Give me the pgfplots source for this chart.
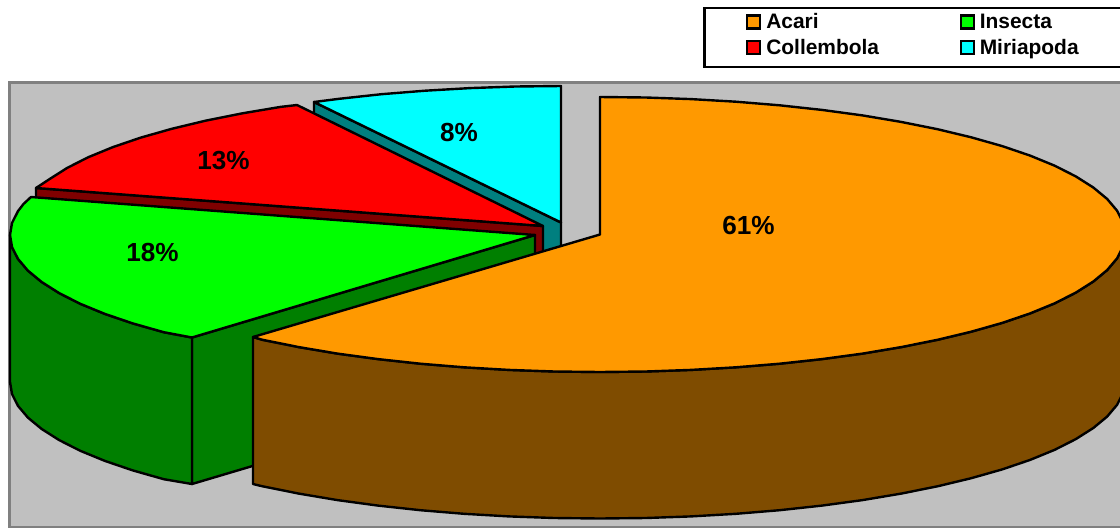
\documentclass[border=0pt]{standalone}
\usepackage{fontspec}
\setmainfont{Liberation Sans}
\usepackage{pgfplots}
\pgfplotsset{compat=1.18}
\definecolor{acari}{HTML}{FF9900}
\definecolor{acariside}{HTML}{7F4C00}
\definecolor{insecta}{HTML}{00FF00}
\definecolor{insectaside}{HTML}{007F00}
\definecolor{collembola}{HTML}{FF0000}
\definecolor{collembolaside}{HTML}{7F0000}
\definecolor{miriapoda}{HTML}{00FFFF}
\definecolor{miriapodaside}{HTML}{007F7F}
\definecolor{plotbg}{HTML}{C0C0C0}
\definecolor{plotframe}{HTML}{808080}
\pgfplotsset{
  face/.style={draw=black, line width=1.8pt, line join=round, mark=none, fill=#1},
  swatch/.style={only marks, mark=square*, mark size=4.875pt,
    mark options={draw=black, line width=1.8pt, fill=#1}},
}
\newcommand{\pct}[1]{\fontsize{19.6pt}{22pt}\selectfont\bfseries #1}
\newcommand{\lgd}[1]{\fontsize{15.7pt}{18pt}\selectfont\bfseries #1}
\begin{document}
\begin{tikzpicture}
\begin{axis}[
  hide axis, scale only axis, width=840pt, height=396.75pt,
  xmin=0, xmax=1120, ymin=0, ymax=529, y dir=reverse, clip=true,
]
% plot area
\addplot[draw=plotframe, fill=plotbg, line width=2pt, mark=none] coordinates {
  (9.5,82.5) (1130,82.5) (1130,527) (9.5,527) } --cycle;

% Miriapoda, 8%
\addplot[face=miriapodaside] coordinates {
  (314,102) (314,249) (561,369) (561,222.5) } --cycle;
\addplot[face=miriapoda] coordinates {
  (561,222.5) (561,86) (515.2,86.5) (469.9,88.1) (425.1,90.7) (381.4,94.2)
  (339.1,98.8) (314,102) } --cycle;

% Collembola, 13%
\addplot[face=collembolaside] coordinates {
  (36,188) (36,335) (543,373) (543,226) } --cycle;
\addplot[face=collembola] coordinates {
  (543,226) (297,105) (280.5,106.9) (241.9,113.4) (205.5,120.7) (171.8,128.8)
  (140.8,137.6) (112.9,147.1) (88.3,157.2) (67.2,167.9) (49.7,179) (36,188) } --cycle;

% Insecta, 18%
\addplot[face=insectaside] coordinates {
  (192,337.5) (192,484) (535,382) (535,235) } --cycle;
\addplot[face=insectaside] coordinates {
  (192,337.5) (163.8,332.2) (132.8,323.4) (104.9,313.9) (80.3,303.8) (59.2,293.1)
  (41.7,282) (27.9,270.6) (18,258.9) (12,247) (10,235)
  (10,382) (12,394) (18,405.9) (27.9,417.6) (41.7,429) (59.2,440.1)
  (80.3,450.8) (104.9,460.9) (132.8,470.4) (163.8,479.2) (192,484) } --cycle;
\addplot[face=insecta] coordinates {
  (535,235) (192,337.5) (163.8,332.2) (132.8,323.4) (104.9,313.9) (80.3,303.8)
  (59.2,293.1) (41.7,282) (27.9,270.6) (18,258.9) (12,247) (10,235) (12,223)
  (18,211.1) (23.5,204) (31,197) } --cycle;

% Acari, 61%
\addplot[face=acariside] coordinates {
  (1125,234.5) (1123,246.5) (1117,258.4) (1107.1,270.1) (1093.3,281.5) (1075.8,292.6)
  (1054.7,303.3) (1030.1,313.4) (1002.2,322.9) (971.2,331.7) (937.5,339.8) (901.1,347.1)
  (862.5,353.6) (821.9,359.1) (779.6,363.7) (735.9,367.3) (691.1,369.9) (645.8,371.5)
  (600,372) (554.2,371.5) (508.9,369.9) (464.1,367.3) (420.4,363.7) (378.1,359.1)
  (337.5,353.6) (298.9,347.1) (262.5,339.8) (253,337)
  (253,484) (262.5,486.3) (298.9,493.6) (337.5,500.1) (378.1,505.6) (420.4,510.2)
  (464.1,513.8) (508.9,516.4) (554.2,518) (600,518.5) (645.8,518) (691.1,516.4)
  (735.9,513.8) (779.6,510.2) (821.9,505.6) (862.5,500.1) (901.1,493.6) (937.5,486.3)
  (971.2,478.2) (1002.2,469.4) (1030.1,459.9) (1054.7,449.8) (1075.8,439.1)
  (1093.3,428) (1107.1,416.6) (1117,404.9) (1123,393) (1125,381) } --cycle;
\addplot[face=acari] coordinates {
  (600,234.5) (600,97) (645.8,97.5) (691.1,99.1) (735.9,101.7) (779.6,105.3)
  (821.9,109.9) (862.5,115.4) (901.1,121.9) (937.5,129.2) (971.2,137.3) (1002.2,146.1)
  (1030.1,155.6) (1054.7,165.7) (1075.8,176.4) (1093.3,187.5) (1107.1,198.9)
  (1117,210.6) (1123,222.5) (1125,234.5) (1123,246.5) (1117,258.4) (1107.1,270.1)
  (1093.3,281.5) (1075.8,292.6) (1054.7,303.3) (1030.1,313.4) (1002.2,322.9)
  (971.2,331.7) (937.5,339.8) (901.1,347.1) (862.5,353.6) (821.9,359.1) (779.6,363.7)
  (735.9,367.3) (691.1,369.9) (645.8,371.5) (600,372) (554.2,371.5) (508.9,369.9)
  (464.1,367.3) (420.4,363.7) (378.1,359.1) (337.5,353.6) (298.9,347.1) (262.5,339.8)
  (253,337) } --cycle;

% slice labels
\node[anchor=base] at (axis cs:748.5,234.5) {\pct{61\%}};
\node[anchor=base] at (axis cs:223.5,169.5) {\pct{13\%}};
\node[anchor=base] at (axis cs:152.5,261.5) {\pct{18\%}};
\node[anchor=base] at (axis cs:459,141.5) {\pct{8\%}};

% legend, running past the right edge
\addplot[draw=black, fill=white, line width=1.8pt, mark=none] coordinates {
  (704.5,8) (1130,8) (1130,67) (704.5,67) } --cycle;
\addplot[swatch=acari] coordinates {(753.5,22)};
\addplot[swatch=collembola] coordinates {(753.5,47.5)};
\addplot[swatch=insecta] coordinates {(967.5,22)};
\addplot[swatch=miriapoda] coordinates {(967.5,47.5)};
\node[anchor=base west, inner sep=0pt] at (axis cs:766,28.7) {\lgd{Acari}};
\node[anchor=base west, inner sep=0pt] at (axis cs:766,54.3) {\lgd{Collembola}};
\node[anchor=base west, inner sep=0pt] at (axis cs:979.5,28.7) {\lgd{Insecta}};
\node[anchor=base west, inner sep=0pt] at (axis cs:979.5,54.3) {\lgd{Miriapoda}};
\end{axis}
% the page is exactly the axis rectangle
\pgfresetboundingbox
\path[use as bounding box] (0,0) rectangle (840pt,396.75pt);
\end{tikzpicture}
\end{document}
